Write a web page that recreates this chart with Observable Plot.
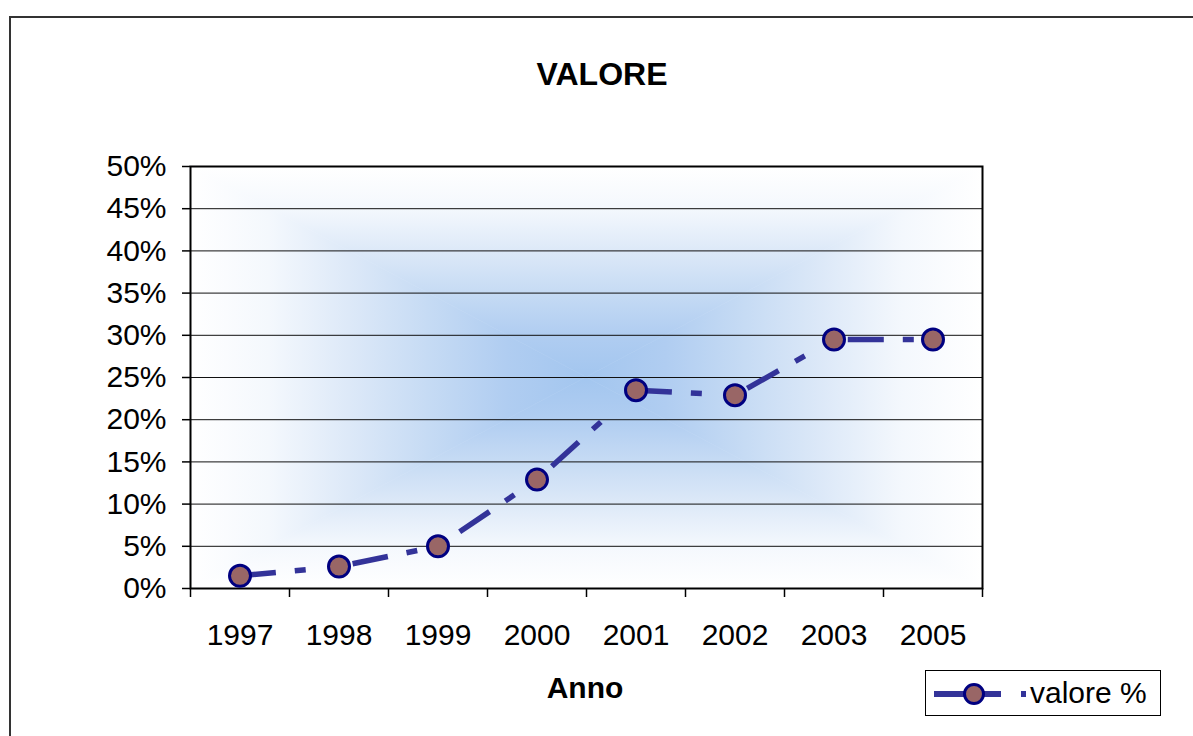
<!DOCTYPE html>
<html>
<head>
<meta charset="utf-8">
<script src="https://cdn.jsdelivr.net/npm/d3@7"></script>
<script src="https://cdn.jsdelivr.net/npm/@observablehq/plot@0.6"></script>
<style>
  html, body { margin: 0; padding: 0; background: #fff; overflow: hidden; }
  #wrap { position: relative; width: 1193px; height: 736px; overflow: hidden;
          font-family: "Liberation Sans", Arial, sans-serif; color: #000; }
  #border { position: absolute; left: 9px; top: 16px; width: 1400px; height: 1000px;
            border: 2px solid #333; box-sizing: border-box; }
  #title { position: absolute; left: 402px; top: 58px; width: 400px; text-align: center;
           font-size: 32px; line-height: 32px; font-weight: bold; }
  #xlabel { position: absolute; left: 485px; top: 673px; width: 200px; text-align: center;
            font-size: 30px; line-height: 30px; font-weight: bold; }
  #chart { position: absolute; left: 0; top: 0; }
  #legend { position: absolute; left: 925px; top: 670px; width: 236px; height: 46px;
            border: 1px solid #000; box-sizing: border-box; background: #fff; }
  #legend svg { position: absolute; left: 0; top: 0; }
  #legend span { position: absolute; left: 104px; top: 7px; font-size: 30px; line-height: 30px; white-space: nowrap; }
</style>
</head>
<body>
<div id="wrap">
  <div id="border"></div>
  <div id="chart"></div>
  <div id="title">VALORE</div>
  <div id="xlabel">Anno</div>
  <div id="legend">
    <svg width="100" height="46">
      <line x1="8" y1="23" x2="75" y2="23" stroke="#333399" stroke-width="6"/>
      <rect x="95" y="20" width="5" height="6" fill="#333399"/>
      <circle cx="48" cy="23" r="9.5" fill="#996666" stroke="#000080" stroke-width="3"/>
    </svg>
    <span>valore %</span>
  </div>
</div>
<script>
// ---- data ----
const years = ["1997", "1998", "1999", "2000", "2001", "2002", "2003", "2005"];
const values = [1.5, 2.6, 5.0, 12.9, 23.5, 22.9, 29.5, 29.5]; // percent
const yTicks = [0, 0.05, 0.10, 0.15, 0.20, 0.25, 0.30, 0.35, 0.40, 0.45, 0.50];
const seriesName = "valore %";

const data = years.map((y, i) => ({pos: i + 0.5, year: y, v: values[i] / 100}));
const bandEdges = d3.range(0, years.length + 1);
const bandCenters = years.map((_, i) => i + 0.5);

// rectangular "from center" gradient background for the plot area
const stops = [
  [0, "#ffffff"], [0.2, "#f4f8fd"], [0.4, "#dde9f8"],
  [0.6, "#c6dbf4"], [0.8, "#b0cdf1"], [1, "#a3c6ef"]
];
function background(index, scales, values, dims) {
  const x0 = dims.marginLeft, x1 = dims.width - dims.marginRight;
  const y0 = dims.marginTop, y1 = dims.height - dims.marginBottom;
  const cx = (x0 + x1) / 2, cy = (y0 + y1) / 2;
  const g = d3.create("svg:g");
  const defs = g.append("defs");
  const parts = [
    {id: "gT", vert: true, from: y0, pts: [[x0,y0],[x1,y0],[cx,cy]]},
    {id: "gB", vert: true, from: y1, pts: [[x0,y1],[x1,y1],[cx,cy]]},
    {id: "gL", vert: false, from: x0, pts: [[x0,y0],[x0,y1],[cx,cy]]},
    {id: "gR", vert: false, from: x1, pts: [[x1,y0],[x1,y1],[cx,cy]]}
  ];
  for (const p of parts) {
    const lg = defs.append("linearGradient").attr("id", p.id)
      .attr("gradientUnits", "userSpaceOnUse");
    if (p.vert) lg.attr("x1", cx).attr("x2", cx).attr("y1", p.from).attr("y2", cy);
    else lg.attr("y1", cy).attr("y2", cy).attr("x1", p.from).attr("x2", cx);
    for (const [o, c] of stops) lg.append("stop").attr("offset", o).attr("stop-color", c);
    g.append("polygon")
      .attr("points", p.pts.map(d => d.join(",")).join(" "))
      .attr("fill", `url(#${p.id})`)
      .attr("stroke", `url(#${p.id})`)
      .attr("stroke-width", 0.6);
  }
  return g.node();
}

const chart = Plot.plot({
  width: 1193,
  height: 736,
  marginLeft: 190,
  marginRight: 211,
  marginTop: 166,
  marginBottom: 148,
  style: {background: "transparent", fontFamily: "'Liberation Sans', Arial, sans-serif", color: "#000"},
  x: {type: "linear", domain: [0, years.length], axis: null},
  y: {domain: [0, 0.5], axis: null},
  marks: [
    background,
    Plot.gridY(yTicks, {stroke: "#111", strokeOpacity: 1, strokeWidth: 1}),
    Plot.frame({stroke: "#000", strokeWidth: 2}),
    Plot.axisY({ticks: yTicks, tickFormat: d3.format(".0%"), tickSize: 8, tickPadding: 16,
                fontSize: 30, label: null, stroke: "#000", strokeWidth: 1.5, fill: "#000"}),
    Plot.axisX({ticks: bandEdges, tickFormat: () => "", tickSize: 9, label: null,
                stroke: "#000", strokeWidth: 1.5}),
    Plot.axisX({ticks: bandCenters, tickFormat: d => years[Math.floor(d)], tickSize: 0,
                tickPadding: 35, fontSize: 30, label: null, fill: "#000"}),
    Plot.line(data, {x: "pos", y: "v", stroke: "#333399", strokeWidth: 5.5,
                     strokeDasharray: "36,19,11,47.3", strokeLinecap: "butt", strokeLinejoin: "miter",
                     curve: "linear"}),
    Plot.dot(data, {x: "pos", y: "v", r: 10.5, fill: "#996666", fillOpacity: 1,
                    stroke: "#000080", strokeWidth: 3, title: d => `${d.year}: ${seriesName}`})
  ]
});
document.getElementById("chart").appendChild(chart);
</script>
</body>
</html>
